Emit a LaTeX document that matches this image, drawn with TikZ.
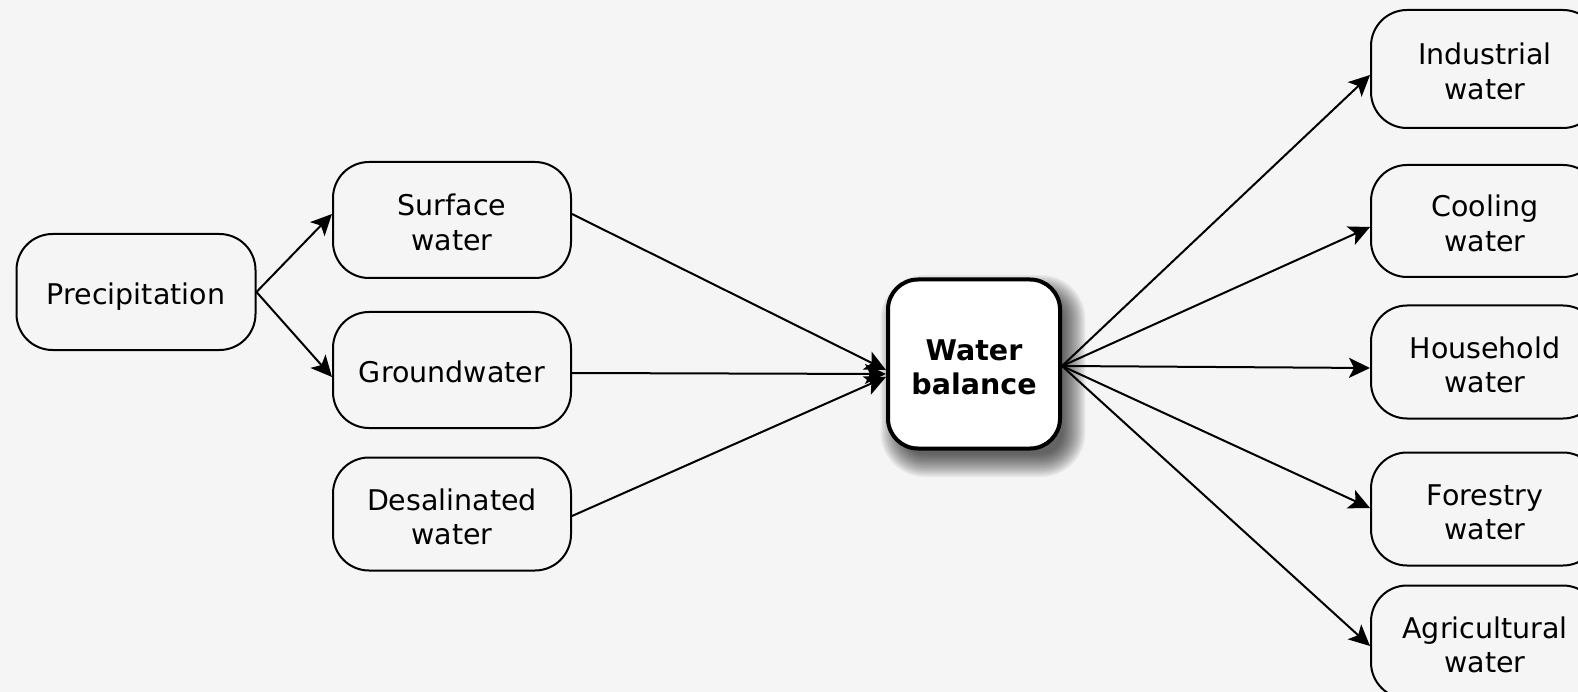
\documentclass[tikz,border=0pt]{standalone}
\usepackage{fontspec}
\setmainfont{DejaVu Sans}
\usetikzlibrary{arrows.meta,calc}
\definecolor{bg}{HTML}{F5F5F5}
\begin{document}
\begin{tikzpicture}[x=1pt,y=-1pt,
  box/.style={draw=black,line width=2pt,rounded corners=36pt,align=center,inner sep=0pt,
    font=\fontsize{28.5}{34.5}\selectfont,minimum width=238pt,minimum height=116pt,text height=61pt,text depth=0pt},
  one/.style={text height=25pt,text depth=0pt},
  wbox/.style={draw=black,fill=white,line width=4pt,rounded corners=30pt,align=center,inner sep=0pt,
    font=\fontsize{28.5}{34.5}\selectfont\bfseries,minimum width=172pt,minimum height=169pt,text height=61pt,text depth=0pt},
  shadowpart/.style={fill=black,opacity=0.05},
  conn/.style={line width=2pt,-{Stealth[length=21pt,width=20pt,inset=5pt]}}]
\fill[bg] (0,0) rectangle (1578,692);
\useasboundingbox (0,0) rectangle (1578,692);
\clip (0,0) rectangle (1578,692);
\coordinate (wbc) at (974,364);
\foreach \i [evaluate=\i as \rr using 22+\i] in {0,1.5,...,22.5} {
  \fill[shadowpart,rounded corners=\rr pt] ($(wbc)+(-86+15-\i,-84.5+18-\i)$) rectangle ($(wbc)+(86+3+\i,84.5+6+\i)$);
}
\node[box,one,minimum width=239pt] (pre) at (136,292) {Precipitation};
\node[box] (sw) at (452,220) {Surface\\water};
\node[box,one] (gw) at (452,370) {Groundwater};
\node[box,minimum height=113pt] (dw) at (452,514) {Desalinated\\water};
\node[wbox] (wb) at (wbc) {Water\\balance};
\node[box,minimum width=228pt,minimum height=118pt] (iw) at (1485,69) {Industrial\\water};
\node[box,minimum width=228pt,minimum height=112pt] (cw) at (1485,221) {Cooling\\water};
\node[box,minimum width=228pt,minimum height=113pt] (hw) at (1485,362) {Household\\water};
\node[box,minimum width=228pt,minimum height=113pt] (fw) at (1485,509) {Forestry\\water};
\node[box,minimum width=228pt,minimum height=113pt] (aw) at (1485,642) {Agricultural\\water};
\draw[conn] (pre.east) -- ([yshift=6pt]sw.west);
\draw[conn] (pre.east) -- ([yshift=-7pt]gw.west);
\draw[conn] ([yshift=6pt]sw.east) -- ([yshift=-6pt]wb.west);
\draw[conn] ([yshift=-3pt]gw.east) -- ([yshift=-10pt]wb.west);
\draw[conn] ([yshift=-2pt]dw.east) -- ([yshift=-13pt]wb.west);
\draw[conn] ([yshift=-2pt]wb.east) -- ([yshift=-6pt]iw.west);
\draw[conn] ([yshift=-2pt]wb.east) -- ([yshift=-6pt]cw.west);
\draw[conn] ([yshift=-2pt]wb.east) -- ([yshift=-6pt]hw.west);
\draw[conn] ([yshift=-2pt]wb.east) -- ([yshift=1pt]fw.west);
\draw[conn] ([yshift=-2pt]wb.east) -- ([yshift=-4pt]aw.west);
\end{tikzpicture}
\end{document}
